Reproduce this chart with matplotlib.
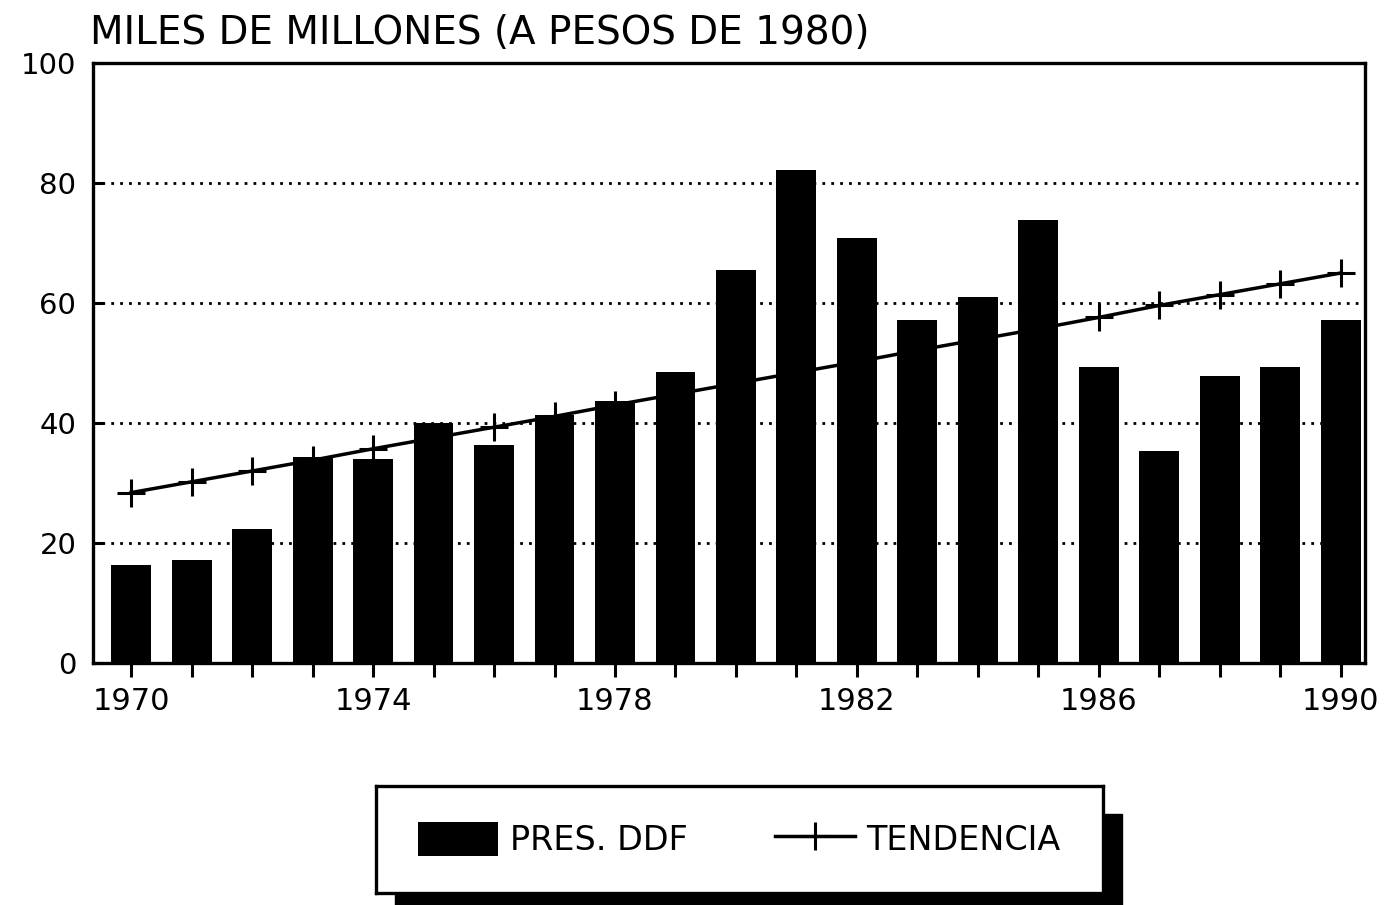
import matplotlib
matplotlib.use("Agg")
import matplotlib.pyplot as plt
from matplotlib.patches import Rectangle

# datos
years = [1970, 1971, 1972, 1973, 1974, 1975, 1976, 1977, 1978, 1979, 1980,
         1981, 1982, 1983, 1984, 1985, 1986, 1987, 1988, 1989, 1990]
pres_ddf = [16.3, 17.2, 22.3, 34.3, 34.0, 40.0, 36.3, 41.3, 43.7, 48.5, 65.5,
            82.2, 70.8, 57.2, 61.0, 73.8, 49.3, 35.3, 47.8, 49.3, 57.2]
tendencia = [28.4, 30.2, 32.0, 33.8, 35.7, 37.5, 39.3, 41.1, 43.0, 44.8, 46.6,
             48.4, 50.2, 52.1, 53.9, 55.7, 57.6, 59.6, 61.4, 63.2, 65.0]
year_labels = [1970, 1974, 1978, 1982, 1986, 1990]
y_ticks = [0, 20, 40, 60, 80, 100]

fnt = 'DejaVu Sans'
W, H = 1385, 905
fig = plt.figure(figsize=(W / 100, H / 100), dpi=100)
ax = fig.add_axes([93 / W, 1 - 663 / H, (1365 - 93) / W, 600 / H])
ax.set_zorder(2)

barras = ax.bar(years, pres_ddf, width=0.66, color='black', zorder=2,
                label='PRES. DDF')
linea, = ax.plot(years, tendencia, color='black', lw=2.5, marker='+', ms=20,
                 mew=2.2, zorder=3, label='TENDENCIA')

for v in [20, 40, 60, 80]:
    ax.axhline(v, color='black', ls=(0, (1, 2.2)), lw=2, zorder=1)

ax.set_xlim(1969.37, 1990.4)
ax.set_ylim(0, 100)
ax.set_xticks(years)
ax.set_xticklabels([str(y) if y in year_labels else '' for y in years],
                   family=fnt, fontsize=22)
ax.set_yticks(y_ticks)
ax.set_yticklabels([str(v) for v in y_ticks], family=fnt, fontsize=21)
ax.tick_params(axis='x', direction='out', length=10, width=2.2, pad=7)
ax.tick_params(axis='y', direction='in', length=7, width=2.2, pad=12)
for s in ax.spines.values():
    s.set_linewidth(2.4)

fig.text(90 / W, 1 - 44 / H, 'MILES DE MILLONES (A PESOS DE 1980)',
         family=fnt, fontsize=28, va='baseline', ha='left')

# caja de leyenda con sombra
fig.patches.append(Rectangle((395 / W, -0.02), (1103 - 376) / W,
                             (912 - 803) / H, transform=fig.transFigure,
                             color='black', zorder=0))
lax = fig.add_axes([376 / W, 1 - 893 / H, (1103 - 376) / W, (893 - 786) / H])
lax.set_zorder(5)
lax.set_facecolor('white')
lax.set_xticks([])
lax.set_yticks([])
for s in lax.spines.values():
    s.set_linewidth(2.4)
lax.legend([barras, linea], ['PRES. DDF', 'TENDENCIA'], loc='center', ncol=2,
           frameon=False, prop={'family': fnt, 'size': 24}, handlelength=2.4,
           handleheight=1.2, handletextpad=0.35, columnspacing=2.6)

fig.savefig('out.png', dpi=100)
